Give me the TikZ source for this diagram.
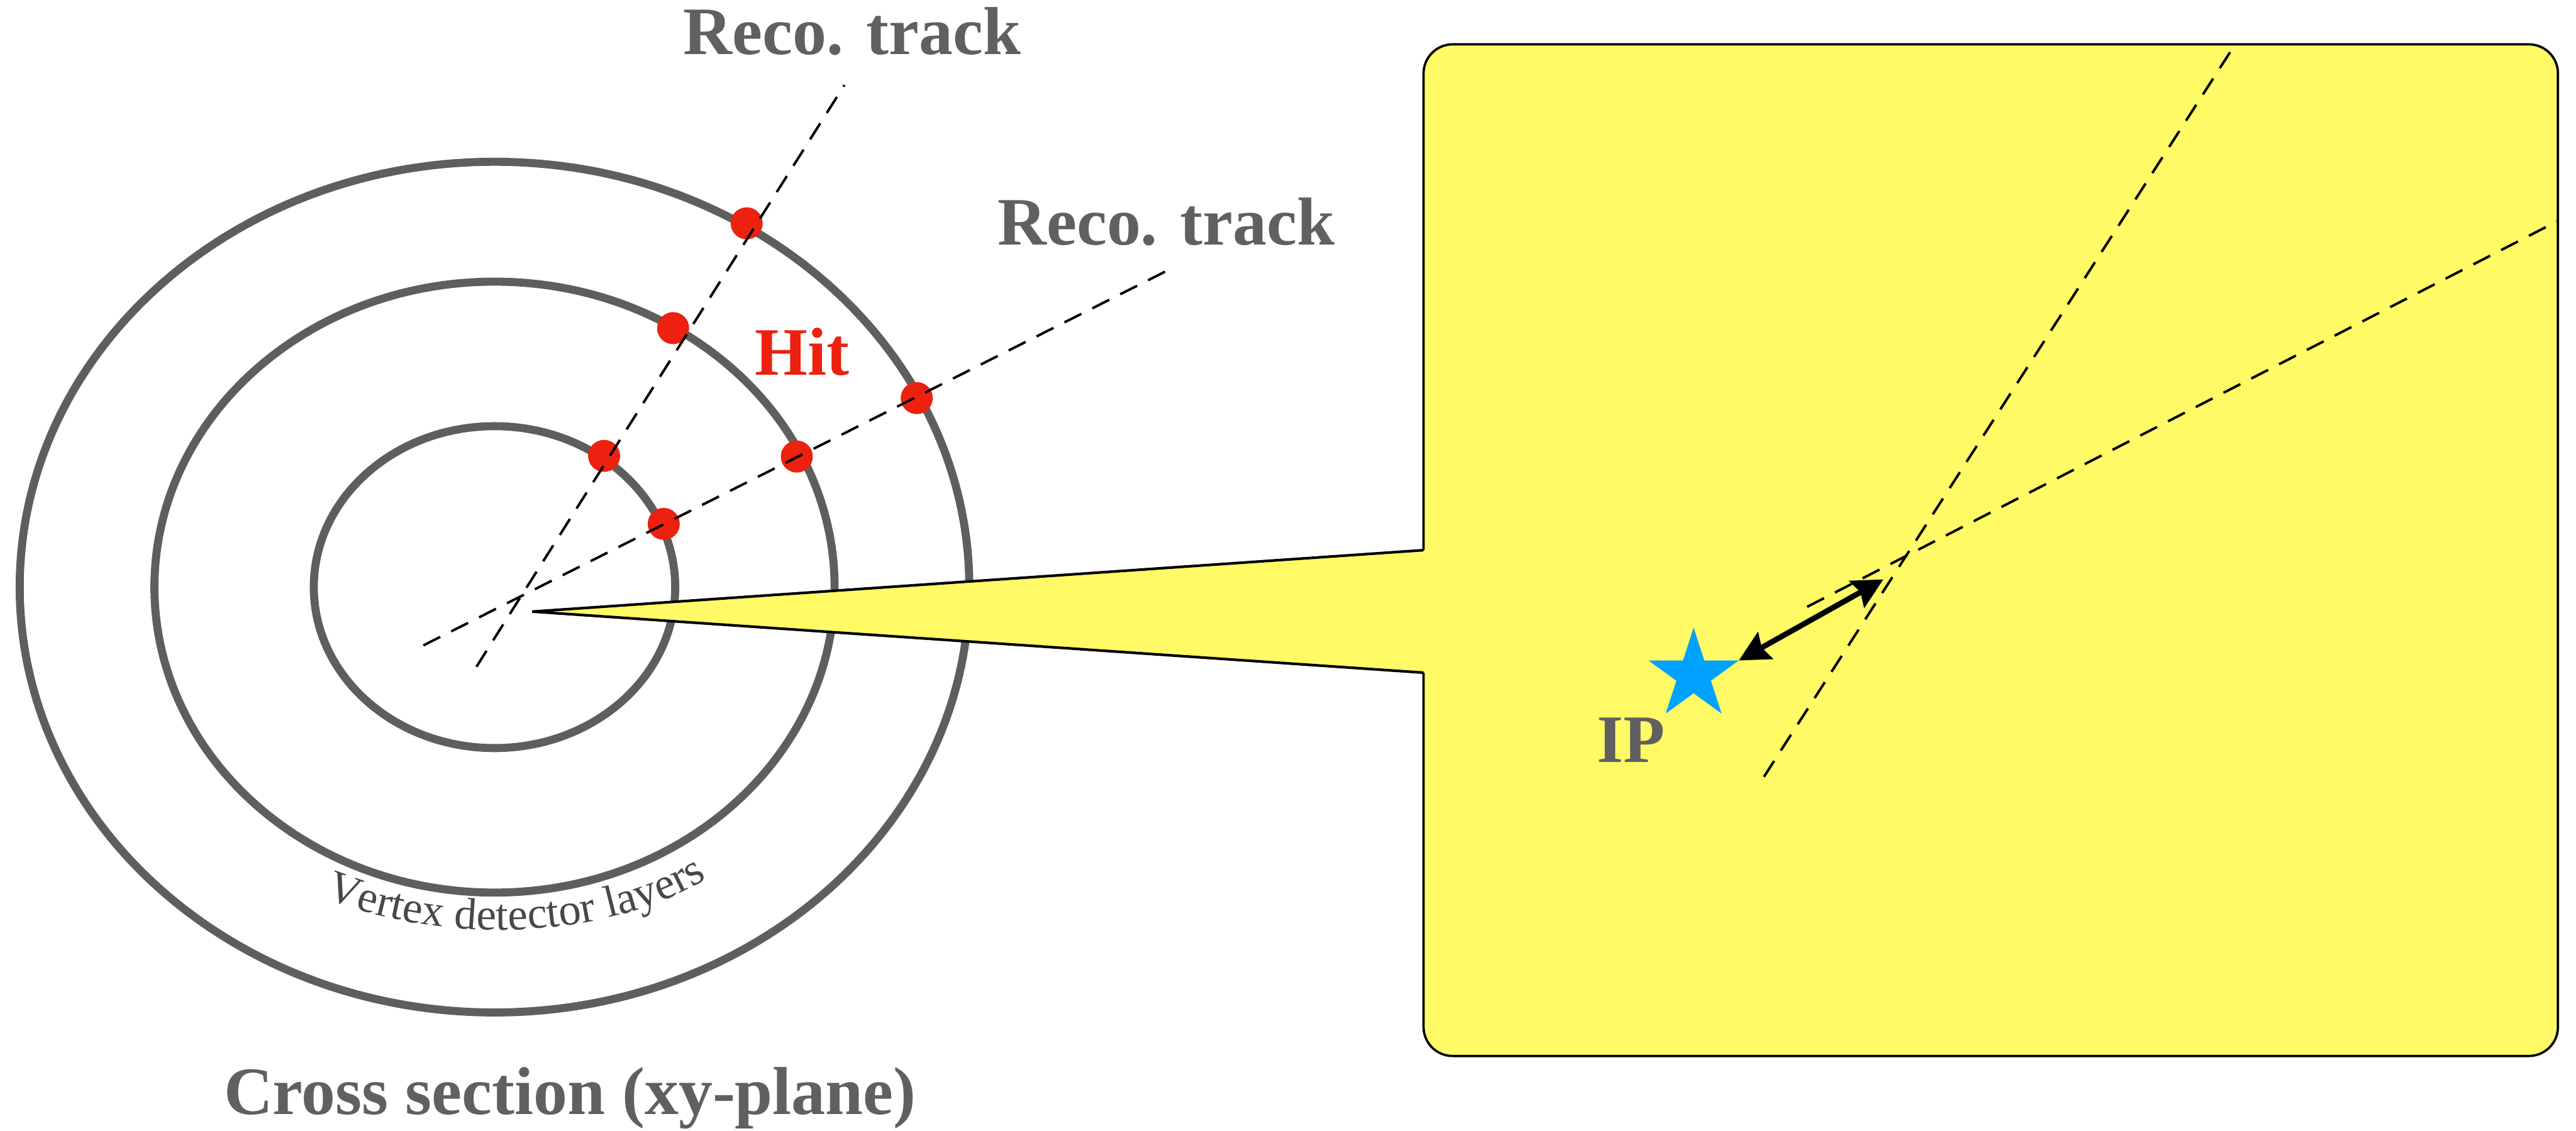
\documentclass[tikz,border=0pt]{standalone}
\usepackage{fontspec}
\setmainfont{Liberation Serif}
\usepackage{xcolor}
\usetikzlibrary{arrows.meta,shapes.geometric,decorations.text}

\definecolor{lblgray}{RGB}{96,96,96}
\definecolor{vtxgray}{RGB}{72,72,72}
\definecolor{layergray}{RGB}{94,94,94}
\definecolor{hitred}{RGB}{236,33,15}
\definecolor{zoomyellow}{RGB}{255,250,102}
\definecolor{ipblue}{RGB}{0,162,255}
\newcommand\vtxfont{\fontsize{15.5}{17}\selectfont\color{vtxgray}}

\begin{document}
\begin{tikzpicture}[
  x=0.2mm, y=-0.2mm,
  layer/.style={draw=layergray,line width=0.98mm},
  track/.style={draw=black,line width=0.3mm,dash pattern=on 2.3mm off 1.5mm},
  hit/.style={circle,fill=hitred,inner sep=0pt,minimum size=3.9mm},
  lbl/.style={font=\bfseries\fontsize{23.5}{28}\selectfont,text=lblgray,inner sep=0pt,anchor=base},
  zoombox/.style={fill=zoomyellow,draw=black,line width=0.28mm},
  ipstar/.style={star,star points=5,star point ratio=2.618,minimum size=11.56mm,inner sep=0pt,outer sep=0pt,fill=ipblue},
  dca/.style={line width=0.67mm,<->,>={Stealth[length=3.7mm,width=3.7mm,inset=0.5mm]}}
]
\useasboundingbox (0,0) rectangle (1568,688.6);

% detector layers, left
\coordinate (ctr) at (301,357.5);
\draw[layer] (ctr) ellipse [x radius=289,y radius=259];
\draw[layer] (ctr) ellipse [x radius=207,y radius=186];
\draw[layer] (ctr) ellipse [x radius=110,y radius=98];
\path[decorate,decoration={text along path,text align=center,
  text={|\vtxfont|Vertex detector layers}}]
  (196,546) .. controls (268,576) and (370,573) .. (432,534);

% zoom box and pointer
\coordinate (tip) at (324,372.4);
\coordinate (jtop) at (866.5,335);
\coordinate (jbot) at (866.5,409.6);
\draw[zoombox,rounded corners=3.54mm] (866.5,27) rectangle (1557,643);
\fill[zoomyellow] (tip) -- (jtop) -- (868,335) -- (868,409.6) -- (jbot) -- cycle;
\draw[black,line width=0.32mm,line join=miter] (jtop) -- (tip) -- (jbot);

% hits
\node[hit] (h1) at (367.7,277.6) {};
\node[hit] (h2) at (409.7,199.8) {};
\node[hit] (h3) at (454.5,136) {};
\node[hit] (h4) at (404,319) {};
\node[hit] (h5) at (485,278) {};
\node[hit] (h6) at (558,242.4) {};

% reconstructed tracks
\coordinate (t1a) at (290,406);
\coordinate (t1b) at (514,51.8);
\coordinate (t2a) at (257.7,393);
\coordinate (t2b) at (710,165);
\draw[track] (t1a) -- (t1b);
\draw[track] (t2a) -- (t2b);

% tracks in zoom box
\coordinate (z1a) at (1073.7,473);
\coordinate (z1b) at (1360.5,27);
\coordinate (z2a) at (1100,369.5);
\coordinate (z2b) at (1557,134.5);
\draw[track] (z1a) -- (z1b);
\draw[track] (z2a) -- (z2b);

% interaction point
\node[ipstar] (ip) at (1030.9,411.1) {};
\coordinate (pca) at (1146.4,352.8);
\draw[dca] (ip.outer point 5) -- (pca);

% labels
\node[lbl] (trk1) at (518.7,33) {Reco. track};
\node[lbl] (trk2) at (709.9,149.2) {Reco. track};
\node[lbl,text=hitred] (hitlbl) at (488.2,228.5) {Hit};
\node[lbl] (iplbl) at (992.9,464) {IP};
\node[lbl] (xsec) at (347,678.5) {Cross section (xy-plane)};
\end{tikzpicture}
\end{document}
